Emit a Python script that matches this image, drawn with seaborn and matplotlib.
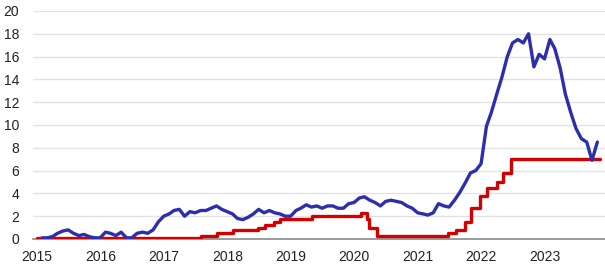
import matplotlib
matplotlib.use("Agg")
import matplotlib.pyplot as plt
import seaborn as sns
import pandas as pd

# Inflation (y/y, %), monthly from Jan 2015 to Oct 2023
cpi_start = "2015-01"
cpi_values = [
    0.1, 0.1, 0.2, 0.5, 0.7, 0.8, 0.5, 0.3, 0.4, 0.2, 0.1, 0.1,   # 2015
    0.6, 0.5, 0.3, 0.6, 0.1, 0.1, 0.5, 0.6, 0.5, 0.8, 1.5, 2.0,   # 2016
    2.2, 2.5, 2.6, 2.0, 2.4, 2.3, 2.5, 2.5, 2.7, 2.9, 2.6, 2.4,   # 2017
    2.2, 1.8, 1.7, 1.9, 2.2, 2.6, 2.3, 2.5, 2.3, 2.2, 2.0, 2.0,   # 2018
    2.5, 2.7, 3.0, 2.8, 2.9, 2.7, 2.9, 2.9, 2.7, 2.7, 3.1, 3.2,   # 2019
    3.6, 3.7, 3.4, 3.2, 2.9, 3.3, 3.4, 3.3, 3.2, 2.9, 2.7, 2.3,   # 2020
    2.2, 2.1, 2.3, 3.1, 2.9, 2.8, 3.4, 4.1, 4.9, 5.8, 6.0, 6.6,   # 2021
    9.9, 11.1, 12.7, 14.2, 16.0, 17.2, 17.5, 17.2, 18.0, 15.1, 16.2, 15.8,  # 2022
    17.5, 16.7, 15.0, 12.7, 11.1, 9.7, 8.8, 8.5, 6.9, 8.5,       # 2023
]

# Policy rate (%), change dates
rate_dates = [
    "2015-01-01", "2017-08-04", "2017-11-03", "2018-02-02", "2018-06-28",
    "2018-08-03", "2018-09-27", "2018-11-02", "2019-05-03", "2020-02-07",
    "2020-03-17", "2020-03-27", "2020-05-12", "2021-06-24", "2021-08-06",
    "2021-10-01", "2021-11-05", "2021-12-24", "2022-02-04", "2022-03-31",
    "2022-05-06", "2022-06-23", "2023-11-15",
]
rate_values = [
    0.05, 0.25, 0.50, 0.75, 1.00, 1.25, 1.50, 1.75, 2.00, 2.25,
    1.75, 1.00, 0.25, 0.50, 0.75, 1.50, 2.75, 3.75, 4.50, 5.00,
    5.75, 7.00, 7.00,
]

year_ticks = [str(y) for y in range(2015, 2024)]
y_ticks = list(range(0, 21, 2))

cpi = pd.DataFrame({
    "date": pd.date_range(cpi_start, periods=len(cpi_values), freq="ME"),
    "value": cpi_values,
})
rate = pd.DataFrame({"date": pd.to_datetime(rate_dates), "value": rate_values})

sns.set_theme(style="white")
plt.rcParams["font.family"] = ["Liberation Sans", "DejaVu Sans"]

fig = plt.figure(figsize=(6.05, 2.69), dpi=100)
ax = fig.add_axes([33 / 605, 30 / 269, 572 / 605, 228 / 269])

ax.set_ylim(0, 20)
ax.set_yticks(y_ticks)
ax.yaxis.grid(True, color="#e3e3e3", linewidth=1.0)
ax.set_axisbelow(True)

sns.lineplot(data=rate, x="date", y="value", ax=ax, color="#d40000",
             linewidth=2.4, drawstyle="steps-post", zorder=3)
sns.lineplot(data=cpi, x="date", y="value", ax=ax, color="#2b2fad",
             linewidth=2.4, zorder=4)

ax.set_xlim(pd.Timestamp("2014-12-10"), pd.Timestamp("2023-12-14"))
ax.set_xticks([pd.Timestamp(f"{y}-01-01") for y in year_ticks])
ax.set_xticklabels(year_ticks)

for s in ["top", "right", "left"]:
    ax.spines[s].set_visible(False)
ax.spines["bottom"].set_color("#8a8a8a")
ax.spines["bottom"].set_linewidth(1.2)
ax.spines["bottom"].set_zorder(2)

ax.tick_params(axis="x", length=3, width=0.8, color="#b0b0b0",
               labelsize=10, labelcolor="#222222", pad=5)
ax.tick_params(axis="y", length=0, labelsize=10, labelcolor="#222222", pad=10)
ax.set_xlabel("")
ax.set_ylabel("")

fig.savefig("out.png", dpi=100)
